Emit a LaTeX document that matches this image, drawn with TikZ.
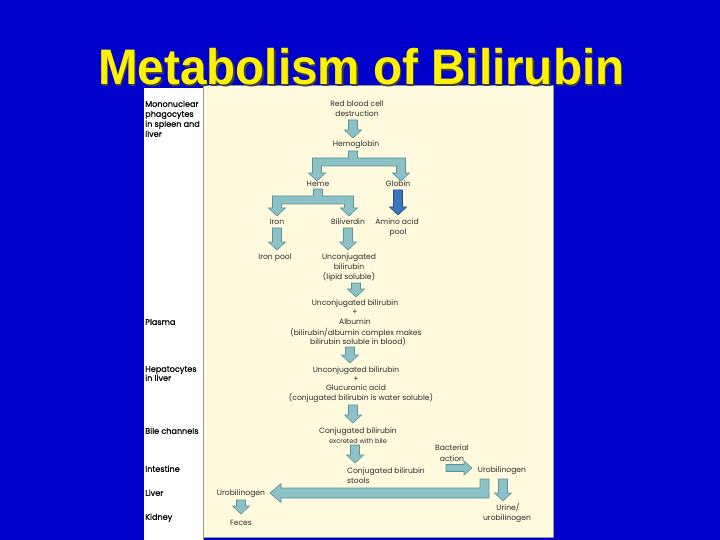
\documentclass[tikz,border=0pt]{standalone}
\usepackage{fontspec}
\setmainfont{Poppins}
\newfontfamily\titlefont{Liberation Sans}
\newfontfamily\lblfont{Poppins}[FakeBold=0.6]
\definecolor{bgblue}{RGB}{0,0,204}
\definecolor{cream}{RGB}{255,249,221}
\definecolor{panelline}{RGB}{150,150,150}
\definecolor{arrfill}{RGB}{140,194,198}
\definecolor{arrline}{RGB}{88,148,156}
\definecolor{darkfill}{RGB}{58,118,188}
\definecolor{darkline}{RGB}{35,75,135}
\definecolor{txt}{RGB}{45,45,45}
\newcommand\tl[4]{\node[txtn] (#1) at (#2,#3+2.7) {#4};}
\newcommand\lb[3]{\node[lbl] (#1) at (145,#2+2.8) {#3};}
\newcommand\fdn[4][arr]{\path[#1] (#2-4.5,#3) -- (#2+4.5,#3) -- (#2+4.5,#4-8) -- (#2+8.5,#4-8) -- (#2,#4) -- (#2-8.5,#4-8) -- (#2-4.5,#4-8) -- cycle;}
\newcommand\fbranch[6]{\path[arr] (#1-4.5,#2) -- (#1+4.5,#2) -- (#1+4.5,#3) -- (#5+4.5,#3) -- (#5+4.5,#6-8) -- (#5+8.5,#6-8) -- (#5,#6) -- (#5-8.5,#6-8) -- (#5-4.5,#6-8) -- (#5-4.5,#3+8) -- (#4+4.5,#3+8) -- (#4+4.5,#6-8) -- (#4+8.5,#6-8) -- (#4,#6) -- (#4-8.5,#6-8) -- (#4-4.5,#6-8) -- (#4-4.5,#3) -- (#1-4.5,#3) -- cycle;}
\begin{document}
\begin{tikzpicture}[x=1pt,y=-1pt,
  lbl/.style={anchor=base west,font=\lblfont\fontsize{8.1}{10}\selectfont,inner sep=0pt,text=black},
  txtn/.style={anchor=base,font=\fontsize{7.6}{10}\selectfont,inner sep=0pt,text=txt},
  arr/.style={fill=arrfill,draw=arrline,line width=0.6pt,line join=miter},
  darr/.style={fill=darkfill,draw=darkline,line width=0.6pt,line join=miter}]
\useasboundingbox (0,0) rectangle (720,540);
\fill[bgblue] (0,0) rectangle (720,540);
% panel
\fill[white] (144,88) rectangle (203.5,540);
\fill[cream] (203.5,85) rectangle (553,537);
\draw[panelline,line width=0.8pt] (203.5,540) -- (203.5,85) -- (553,85) -- (553,537) -- (203.5,537);
% title
\node[anchor=base west,inner sep=0pt,text=black!75,font=\titlefont\bfseries\fontsize{50}{50}\selectfont] (titleshadow) at (99.5,86.5) {\scalebox{0.952}[1]{Metabolism of Bilirubin}};
\node[anchor=base west,inner sep=0pt,text=yellow,font=\titlefont\bfseries\fontsize{50}{50}\selectfont] (title) at (98,85) {\scalebox{0.952}[1]{Metabolism of Bilirubin}};
% left labels
\lb{m1}{104}{Mononuclear}
\lb{m2}{114}{phagocytes}
\lb{m3}{124}{in spleen and}
\lb{m4}{134}{liver}
\lb{plasma}{322}{Plasma}
\lb{hep1}{369}{Hepatocytes}
\lb{hep2}{378}{in liver}
\lb{bile}{431}{Bile channels}
\lb{intest}{469}{Intestine}
\lb{liver}{493}{Liver}
\lb{kidney}{517}{Kidney}
% texts
\tl{rbc1}{357}{104}{Red blood cell}
\tl{rbc2}{357}{114}{destruction}
\tl{hb}{356}{144}{Hemoglobin}
\tl{heme}{318}{184}{Heme}
\tl{globin}{398}{184}{Globin}
\tl{iron}{277}{222}{Iron}
\tl{biliv}{348}{222}{Biliverdin}
\tl{amino1}{397}{222}{Amino acid}
\tl{amino2}{398}{232}{pool}
\tl{ironpool}{275}{257}{Iron pool}
\tl{ub1}{349}{257}{Unconjugated}
\tl{ub2}{349}{267}{bilirubin}
\tl{ub3}{349}{277}{(lipid soluble)}
\tl{pl1}{355}{303}{Unconjugated bilirubin}
\tl{pl2}{355}{312}{+}
\tl{pl3}{355}{322}{Albumin}
\tl{pl4}{356}{333}{(bilirubin/albumin complex makes}
\tl{pl5}{358}{342}{bilirubin soluble in blood)}
\tl{hp1}{356}{370}{Unconjugated bilirubin}
\tl{hp2}{356}{379}{+}
\tl{hp3}{356}{388}{Glucuronic acid}
\tl{hp4}{361}{398}{(conjugated bilirubin is water soluble)}
\tl{cb1}{358}{431}{Conjugated bilirubin}
\node[txtn,font=\fontsize{6.6}{8}\selectfont] (cb2) at (358,443.5) {excreted with bile};
\node[txtn,anchor=base west] (st1) at (347,473.5) {Conjugated bilirubin};
\node[txtn,anchor=base west] (st2) at (347,483.5) {stools};
\tl{bact1}{452}{448}{Bacterial}
\tl{bact2}{452}{459}{action}
\tl{urob}{502}{470}{Urobilinogen}
\tl{urobl}{241}{493}{Urobilinogen}
\tl{feces}{241}{523}{Feces}
\tl{urine1}{508}{508}{Urine/}
\tl{urine2}{507}{518}{urobilinogen}
% arrows
\fdn{353}{120}{138}
\fbranch{353}{151}{158}{317}{401}{181}
\fbranch{318}{189}{196}{277}{349}{216}
\fdn[darr]{398}{190}{215}
\fdn{277}{228}{250}
\fdn{348}{228}{250}
\fdn{356}{283}{297}
\fdn{350}{347}{363}
\fdn{353}{405}{423}
\fdn{355}{445}{463}
\path[arr] (446,464.5) -- (464,464.5) -- (464,461) -- (472,468) -- (464,475) -- (464,471.5) -- (446,471.5) -- cycle;
\path[arr] (480,479) -- (489,479) -- (489,498) -- (281,498) -- (281,502.5) -- (270,493) -- (281,483.5) -- (281,488) -- (480,488) -- cycle;
\fdn{241}{500}{514}
\fdn{503}{479}{501}
\end{tikzpicture}
\end{document}
